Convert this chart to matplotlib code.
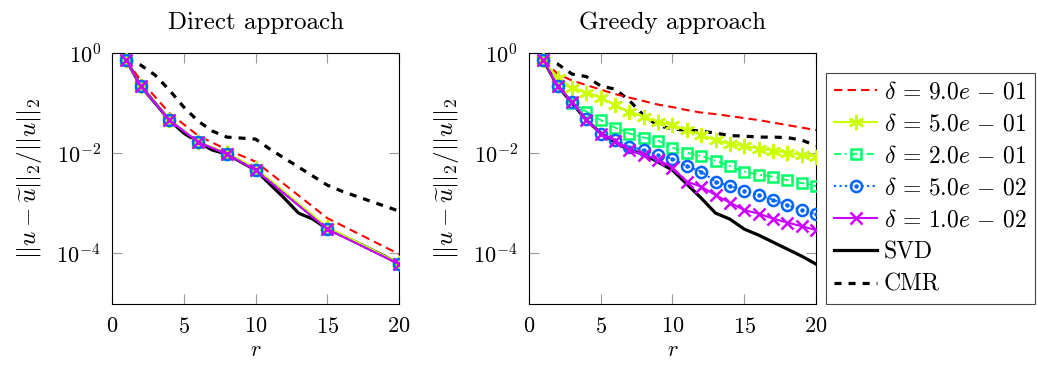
import numpy as np
import matplotlib
matplotlib.use('Agg')
import matplotlib.pyplot as plt
from matplotlib.legend_handler import HandlerTuple

plt.rcParams['font.family'] = 'serif'
plt.rcParams['font.serif'] = ['cmr10']
plt.rcParams['mathtext.fontset'] = 'cm'
plt.rcParams['axes.formatter.use_mathtext'] = True
plt.rcParams['font.size'] = 16

# rank r
r_direct = [1, 2, 4, 6, 8, 10, 15, 20]
r_greedy = list(range(1, 21))

# values as log10 of the relative error
svd_log = [-0.14, -0.66, -1.0, -1.34, -1.6, -1.78, -1.94, -2.02, -2.18, -2.34,
           -2.62, -2.9, -3.2, -3.32, -3.52, -3.64, -3.78, -3.92, -4.06, -4.22]
cmr_direct_log = [-0.14, -0.24, -0.44, -0.74, -1.08, -1.36, -1.56, -1.68, -1.7, -1.72,
                  -1.92, -2.1, -2.28, -2.46, -2.64, -2.76, -2.86, -2.96, -3.06, -3.16]
cmr_greedy_log = [-0.14, -0.22, -0.42, -0.47, -0.66, -0.72, -0.95, -1.25, -1.45, -1.52,
                  -1.54, -1.56, -1.6, -1.65, -1.66, -1.68, -1.68, -1.69, -1.74, -1.85]

delta_labels = [r'$\delta\,=\,9.0e\,-\,01$', r'$\delta\,=\,5.0e\,-\,01$', r'$\delta\,=\,2.0e\,-\,01$',
                r'$\delta\,=\,5.0e\,-\,02$', r'$\delta\,=\,1.0e\,-\,02$']

direct_log = [
    [-0.14, -0.55, -1.2, -1.65, -1.93, -2.17, -3.3, -4.02],
    [-0.14, -0.66, -1.33, -1.77, -2.0, -2.3, -3.48, -4.2],
    [-0.14, -0.66, -1.34, -1.78, -2.02, -2.33, -3.52, -4.22],
    [-0.14, -0.66, -1.34, -1.78, -2.02, -2.33, -3.52, -4.22],
    [-0.14, -0.66, -1.34, -1.78, -2.02, -2.34, -3.52, -4.22],
]
greedy_log = [
    [-0.14, -0.42, -0.55, -0.64, -0.73, -0.82, -0.89, -0.96, -1.03, -1.08,
     -1.14, -1.19, -1.22, -1.26, -1.3, -1.34, -1.39, -1.44, -1.49, -1.54],
    [-0.14, -0.5, -0.69, -0.79, -0.89, -1.04, -1.17, -1.27, -1.37, -1.44,
     -1.54, -1.64, -1.74, -1.81, -1.86, -1.91, -1.95, -1.99, -2.04, -2.07],
    [-0.14, -0.66, -1.0, -1.17, -1.34, -1.49, -1.61, -1.69, -1.75, -1.89,
     -1.99, -2.06, -2.15, -2.26, -2.37, -2.43, -2.47, -2.54, -2.6, -2.66],
    [-0.14, -0.66, -0.98, -1.31, -1.61, -1.74, -1.87, -1.94, -2.04, -2.11,
     -2.26, -2.37, -2.57, -2.66, -2.75, -2.84, -2.93, -3.04, -3.14, -3.22],
    [-0.14, -0.66, -0.98, -1.33, -1.61, -1.75, -1.94, -2.04, -2.13, -2.29,
     -2.57, -2.67, -2.84, -2.99, -3.14, -3.21, -3.31, -3.39, -3.46, -3.54],
]

styles = [
    dict(color='#ff0000', ls=(0, (4, 2.5)), lw=1.5, marker=None),
    dict(color='#ccff00', ls='-', lw=1.5, marker=(6, 2, 0), ms=11, mew=1.8, mfc='none'),
    dict(color='#00ff66', ls=(0, (4, 2, 1, 2)), lw=1.3, marker='s', ms=6.5, mew=1.8, mfc='none'),
    dict(color='#0066ff', ls=':', lw=1.5, marker='o', ms=8, mew=1.8, mfc='none'),
    dict(color='#cc00ff', ls='-', lw=1.5, marker='x', ms=8.5, mew=1.8),
]


def draw_panel(ax, r_delta, deltas_log, cmr_log, title):
    handles = []
    for vals, st in zip(deltas_log, styles):
        y = 10.0 ** np.array(vals)
        h, = ax.plot(r_delta, y, zorder=3, **st)
        if st['marker'] == 'o':
            # circle with a dot in the middle
            d, = ax.plot(r_delta, y, ls='none', marker='o', ms=2.2, color=st['color'], zorder=3)
            h = (h, d)
        handles.append(h)
    h_svd, = ax.plot(r_greedy, 10.0 ** np.array(svd_log), color='black', lw=2.3, zorder=2.5)
    h_cmr, = ax.plot(r_greedy, 10.0 ** np.array(cmr_log), color='black', lw=2.3,
                     ls=(0, (2.2, 2.2)), zorder=2.5)
    handles += [h_svd, h_cmr]

    ax.set_yscale('log')
    ax.set_xlim(0, 20)
    ax.set_ylim(10 ** -5.02, 1)
    ax.set_xticks([0, 5, 10, 15, 20])
    ax.set_yticks([1e0, 1e-2, 1e-4])
    ax.minorticks_off()
    ax.tick_params(direction='in', top=True, right=True, length=7, width=0.8,
                   color='#9a9a9a', labelcolor='black')
    ax.tick_params(axis='x', pad=9)
    ax.tick_params(axis='y', pad=8)
    for s in ax.spines.values():
        s.set_linewidth(0.8)
    ax.set_title(title, pad=17, fontsize=18)
    ax.set_xlabel(r'$r$', labelpad=3)
    ax.set_ylabel(r'$||u-\widetilde{u}||_2/||u||_2$', labelpad=9, fontsize=18)
    return handles


fig = plt.figure(figsize=(10.37, 3.66), dpi=100)
ax1 = fig.add_axes([0.108, 0.169, 0.2768, 0.686])
ax2 = fig.add_axes([0.5101, 0.169, 0.2768, 0.686])

draw_panel(ax1, r_direct, direct_log, cmr_direct_log, 'Direct approach')
handles = draw_panel(ax2, r_greedy, greedy_log, cmr_greedy_log, 'Greedy approach')

leg = ax2.legend(handles, delta_labels + ['SVD', 'CMR'], loc='upper left',
                 bbox_to_anchor=(1.035, 0.92), fancybox=False, edgecolor='#444444',
                 framealpha=1, fontsize=17, handlelength=1.8, handletextpad=0.3,
                 borderpad=0.35, labelspacing=0.42, borderaxespad=0,
                 handler_map={tuple: HandlerTuple(ndivide=1, pad=0)})
leg.get_frame().set_linewidth(0.8)

fig.savefig('out.png', dpi=100)
